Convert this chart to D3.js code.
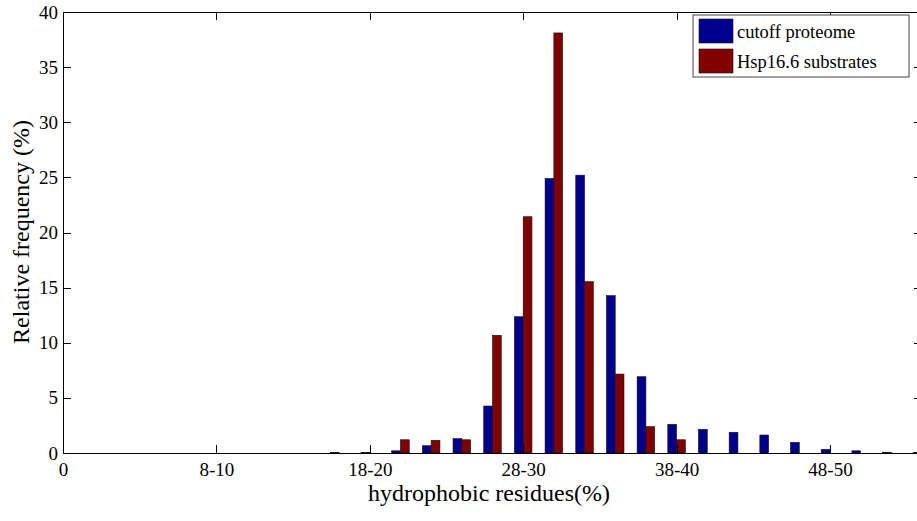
<!DOCTYPE html>
<html>
<head>
<meta charset="utf-8">
<script src="https://cdn.jsdelivr.net/npm/d3@7"></script>
<style>
    body { margin: 0; background: #fff; }
    #chart-area { width: 917px; height: 521px; }
    svg text { font-family: "Liberation Serif", "Times New Roman", serif; fill: #000; }
    .axis path, .axis line { stroke: #000; shape-rendering: crispEdges; }
</style>
</head>
<body>
<div id="chart-area"></div>
<script>

// bin index on the x axis (each bin is 2% wide, bin 5 = "8-10")
let binIndex = d3.range(1, 29);

// relative frequency (%) per bin
let proteome = [0, 0, 0, 0, 0, 0, 0, 0, 0.05, 0.06, 0.2, 0.66, 1.3, 4.26, 12.36, 24.9,
    25.2, 14.27, 6.92, 2.6, 2.15, 1.88, 1.63, 0.97, 0.33, 0.2, 0.07, 0.05];
let substrates = [0, 0, 0, 0, 0, 0, 0, 0, 0, 0, 1.2, 1.15, 1.2, 10.67, 21.43, 38.1,
    15.54, 7.16, 2.39, 1.2, 0, 0, 0, 0, 0, 0, 0, 0];

let seriesNames = ["cutoff proteome", "Hsp16.6 substrates"];
let seriesColors = ["#00008f", "#800000"];

let xTickValues = [0, 5, 10, 15, 20, 25];
let xTickLabels = ["0", "8-10", "18-20", "28-30", "38-40", "48-50"];
let yTickValues = [0, 5, 10, 15, 20, 25, 30, 35, 40];

const SERIF = "Liberation Serif, Times New Roman, serif";


class GroupedBarVis {

    constructor(parentElement) {
        this.parentElement = parentElement;
        this.initVis();
    }

    initVis() {
        let vis = this;

        vis.margin = {top: 12, right: -5, bottom: 68, left: 63};
        vis.width = 917 - vis.margin.left - vis.margin.right;
        vis.height = 521 - vis.margin.top - vis.margin.bottom;

        vis.root = d3.select("#" + vis.parentElement).append("svg")
            .attr("width", 917)
            .attr("height", 521)
            .attr("font-family", SERIF);

        vis.svg = vis.root.append("g")
            .attr("transform", "translate(" + vis.margin.left + "," + vis.margin.top + ")");

        // scales
        vis.x = d3.scaleLinear()
            .domain([0, 28])
            .range([0, vis.width]);

        vis.y = d3.scaleLinear()
            .domain([0, 40])
            .range([vis.height, 0]);

        // bar width in bin units (matlab grouped bar, 2 series)
        vis.barW = 0.286;

        vis.wrangleData();
    }

    wrangleData() {
        let vis = this;

        vis.displayData = [];
        binIndex.forEach((b, i) => {
            vis.displayData.push({bin: b, series: 0, value: proteome[i]});
            vis.displayData.push({bin: b, series: 1, value: substrates[i]});
        });

        vis.updateVis();
    }

    updateVis() {
        let vis = this;

        // bars
        vis.svg.append("g")
            .selectAll("rect")
            .data(vis.displayData.filter(d => d.value > 0))
            .enter().append("rect")
            .attr("x", d => vis.x(d.bin + (d.series === 0 ? -vis.barW : 0)))
            .attr("width", vis.x(vis.barW) - vis.x(0))
            .attr("y", d => vis.y(d.value))
            .attr("height", d => vis.y(0) - vis.y(d.value))
            .attr("fill", d => seriesColors[d.series])
            .attr("stroke", "#111")
            .attr("stroke-width", 0.6);

        // axes with ticks pointing inward, box on all four sides
        vis.svg.append("g")
            .attr("class", "x-axis axis")
            .attr("transform", "translate(0," + vis.height + ")")
            .call(d3.axisBottom(vis.x)
                .tickValues(xTickValues)
                .tickFormat((d, i) => xTickLabels[i])
                .tickSizeInner(-8).tickSizeOuter(0).tickPadding(10))
            .attr("font-family", SERIF)
            .attr("font-size", 19);

        vis.svg.append("g")
            .attr("class", "x-axis-top axis")
            .call(d3.axisTop(vis.x)
                .tickValues(xTickValues)
                .tickFormat("")
                .tickSizeInner(-8).tickSizeOuter(0));

        vis.svg.append("g")
            .attr("class", "y-axis axis")
            .call(d3.axisLeft(vis.y)
                .tickValues(yTickValues)
                .tickSizeInner(-8).tickSizeOuter(0).tickPadding(5))
            .attr("font-family", SERIF)
            .attr("font-size", 19);

        vis.svg.append("g")
            .attr("class", "y-axis-right axis")
            .attr("transform", "translate(" + vis.width + ",0)")
            .call(d3.axisRight(vis.y)
                .tickValues(yTickValues)
                .tickFormat("")
                .tickSizeInner(-8).tickSizeOuter(0));

        // axis titles
        vis.root.append("text")
            .attr("x", 489)
            .attr("y", 501)
            .attr("text-anchor", "middle")
            .attr("font-size", 24)
            .text("hydrophobic residues(%)");

        vis.root.append("text")
            .attr("transform", "translate(29," + 232 + ") rotate(-90)")
            .attr("text-anchor", "middle")
            .attr("font-size", 24)
            .text("Relative frequency (%)");

        // legend
        let legend = vis.root.append("g")
            .attr("class", "legend")
            .attr("transform", "translate(693,15)");

        legend.append("rect")
            .attr("width", 216)
            .attr("height", 62)
            .attr("fill", "#fff")
            .attr("stroke", "#444")
            .attr("stroke-width", 1);

        seriesNames.forEach((name, i) => {
            legend.append("rect")
                .attr("x", 6)
                .attr("y", 4 + i * 30)
                .attr("width", 34)
                .attr("height", 24)
                .attr("fill", seriesColors[i])
                .attr("stroke", "#111")
                .attr("stroke-width", 0.6);

            legend.append("text")
                .attr("x", 44)
                .attr("y", 23 + i * 30)
                .attr("font-size", 18.5)
                .text(name);
        });
    }
}

new GroupedBarVis("chart-area");

</script>
</body>
</html>
